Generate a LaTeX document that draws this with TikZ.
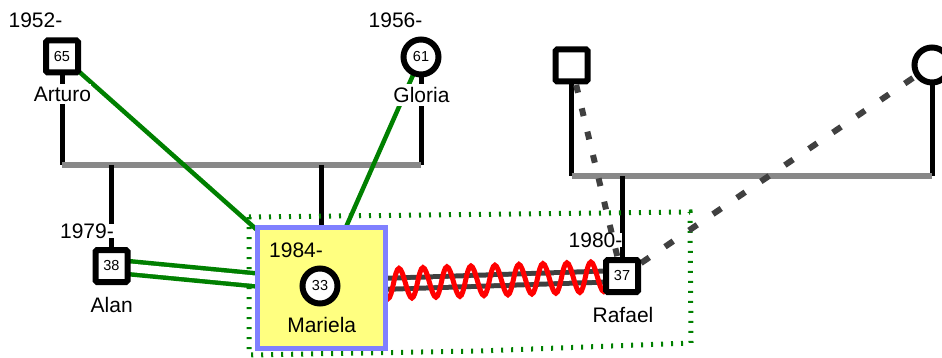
\documentclass[tikz,border=0pt]{standalone}
\usepackage{fontspec}
\setmainfont{Liberation Sans}
\usetikzlibrary{backgrounds,decorations.pathmorphing}
\definecolor{famgray}{HTML}{888888}
\definecolor{linkgreen}{HTML}{008000}
\definecolor{dashgray}{HTML}{404040}
\definecolor{hlyellow}{HTML}{FFFF80}
\definecolor{hlblue}{HTML}{8080FF}

\begin{document}
\begin{tikzpicture}[x=1pt,y=-1pt,
  male/.style={draw=black, fill=white, line width=6pt, rectangle, rounded corners=1.5pt,
    minimum size=32pt, inner sep=0pt, font=\fontsize{14.5}{16}\selectfont},
  female/.style={draw=black, fill=white, line width=6pt, circle,
    minimum size=35pt, inner sep=0pt, font=\fontsize{14.5}{16}\selectfont},
  lbl/.style={font=\fontsize{21}{24}\selectfont, inner sep=0pt},
  lblw/.style={lbl, fill=white, inner ysep=3pt},
  yearw/.style={lbl, fill=white},
  hlbox/.style={draw=hlblue, fill=hlyellow, line width=5pt, rectangle,
    minimum width=128pt, minimum height=121pt},
  descent/.style={draw=black, line width=5pt},
  union/.style={draw=famgray, line width=5.5pt},
  link/.style={draw=linkgreen, line width=4.5pt},
  doublelink/.style={link, double=white, double distance=8.5pt},
  hint/.style={draw=dashgray, line width=6pt},
  partner/.style={draw=dashgray, line width=5pt, double=white, double distance=6pt},
  conflict/.style={draw=red, line width=5pt, decorate,
    decoration={snake, segment length=24pt, amplitude=15pt}},
  groupline/.style={draw=linkgreen, line width=5pt, dash pattern=on 2pt off 8pt}
]
\useasboundingbox (0,0) rectangle (942,358);

% people
\node[male] (arturo) at (62,56.5) {65};
\node[female] (gloria) at (421,57) {61};
\node[male] (alan) at (111.5,266) {38};
\node[hlbox] (hl) at (321.5,288) {};
\node[female] (mariela) at (320,286) {33};
\node[male] (rafael) at (622,276) {37};
\node[male] (rdad) at (571.5,65.5) {};
\node[female] (rmom) at (932,65) {};

% names and years
\node[lbl] (yArturo) at (35.5,20.5) {1952-};
\node[lblw] (nArturo) at (62.5,94) {Arturo};
\node[lbl] (yGloria) at (395.5,20.5) {1956-};
\node[lblw] (nGloria) at (421.5,95) {Gloria};
\node[yearw] (yAlan) at (87,231) {1979-};
\node[lbl] (nAlan) at (111.7,304.5) {Alan};
\node[lbl] (yMariela) at (296,250) {1984-};
\node[lbl] (nMariela) at (321.7,324.5) {Mariela};
\node[yearw] (yRafael) at (595.5,240) {1980-};
\node[lbl] (nRafael) at (623,314.5) {Rafael};

% family bars
\coordinate (uL1) at (62,165);
\coordinate (uR1) at (421,165);
\coordinate (uC1a) at (111.5,165);
\coordinate (uC1b) at (321.5,165);
\coordinate (uL2) at (571.5,176);
\coordinate (uR2) at (932,176);
\coordinate (uC2) at (622,176);

% group outline
\coordinate (g1) at (249,217);
\coordinate (g2) at (690,212);
\coordinate (g3) at (691,343);
\coordinate (g4) at (479,351);
\coordinate (g5) at (249,355);

\begin{pgfonlayer}{background}
  \draw[descent] (arturo.center) -- (uL1);
  \draw[descent] (gloria.center) -- (uR1);
  \draw[union] (uL1) -- (uR1);
  \draw[descent] (uC1a) -- (alan.center);
  \draw[descent] (uC1b) -- (hl.north);

  \draw[descent] (rdad.center) -- (uL2);
  \draw[descent] (rmom.center) -- (uR2);
  \draw[union] (uL2) -- (uR2);
  \draw[descent] (uC2) -- (rafael.center);

  \draw[groupline] (g1) -- (g2) -- (g3) -- (g4) -- (g5) -- cycle;

  \draw[hint, dash pattern=on 8pt off 16pt, dash phase=4pt] (rdad.center) -- (rafael.center);
  \draw[hint, dash pattern=on 10pt off 19pt, dash phase=6pt] (rmom.center) -- (rafael.center);

  \draw[link] (arturo.center) -- (mariela.center);
  \draw[link] (gloria.center) -- (mariela.center);
  \draw[doublelink] (alan.center) -- (mariela.center);

  \draw[partner] (mariela.center) -- (rafael.center);
  \draw[conflict] (mariela.center) -- (rafael.center);
\end{pgfonlayer}
\end{tikzpicture}
\end{document}
